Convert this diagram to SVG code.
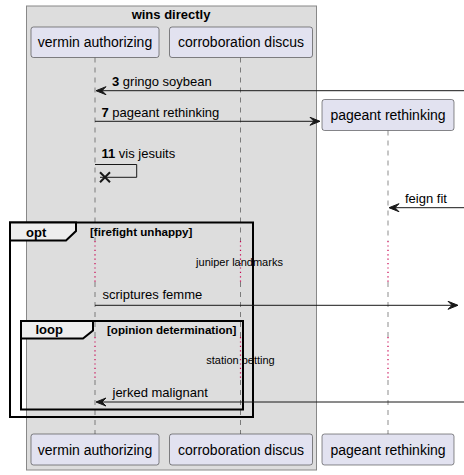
<svg xmlns="http://www.w3.org/2000/svg" width="464" height="475" viewBox="0 0 464 475">
<style>
text{font-family:"Liberation Sans",Arial,sans-serif;fill:#000}
.p{font-size:14px;text-anchor:middle}
.m{font-size:13px}
.b{font-weight:bold}
.d{font-size:11px;text-anchor:middle}
.g{font-size:11.6px;font-weight:bold}
.part{fill:#E2E2F0;stroke:#181818;stroke-width:0.5}
.life{stroke:#181818;stroke-width:0.5;stroke-dasharray:5,5;fill:none}
.delay{stroke:#C8004F;stroke-width:1.2;stroke-dasharray:1.2,3.2;fill:none}
.msg{stroke:#181818;stroke-width:1;fill:none}
.head{fill:#181818;stroke:#181818;stroke-width:1}
.frame{fill:none;stroke:#000;stroke-width:2}
.tab{fill:#EEEEEE;stroke:#000;stroke-width:2}
</style>
<g id="box-wins-directly">
<rect x="26.5" y="6" width="290" height="464" fill="#DDDDDD" stroke="#888888" stroke-width="1"/>
<text x="171" y="18.5" class="m b" text-anchor="middle">wins directly</text>
</g>
<g id="lifelines">
<path class="life" d="M95,57.5V241M95,282V337M95,380V434"/>
<path class="life" d="M240.5,57.5V241M240.5,282V337M240.5,380V434"/>
<path class="life" d="M388,130.5V241M388,282V337M388,380V434"/>
<path class="delay" d="M95,241V282M95,337V380"/>
<path class="delay" d="M240.5,241V282M240.5,337V380"/>
<path class="delay" d="M388,241V282M388,337V380"/>
</g>
<g id="participant-vermin-authorizing">
<rect class="part" x="31" y="27" width="128" height="30.5" rx="2.5"/>
<text class="p" x="95" y="47">vermin authorizing</text>
<rect class="part" x="31" y="434" width="128" height="31" rx="2.5"/>
<text class="p" x="95" y="454.5">vermin authorizing</text>
</g>
<g id="participant-corroboration-discus">
<rect class="part" x="169.5" y="27" width="143" height="30.5" rx="2.5"/>
<text class="p" x="241" y="47">corroboration discus</text>
<rect class="part" x="169.5" y="434" width="143" height="31" rx="2.5"/>
<text class="p" x="241" y="454.5">corroboration discus</text>
</g>
<g id="participant-pageant-rethinking">
<rect class="part" x="322" y="99.5" width="132" height="31" rx="2.5"/>
<text class="p" x="388" y="120">pageant rethinking</text>
<rect class="part" x="322" y="434" width="132" height="31" rx="2.5"/>
<text class="p" x="388" y="454.5">pageant rethinking</text>
</g>
<g id="fragment-opt">
<rect class="frame" x="10" y="222.5" width="243" height="194.5"/>
<path class="tab" d="M10,222.5H76V231L66,240.5H10Z"/>
<text class="m b" x="26" y="236.5">opt</text>
<text class="g" x="90" y="236">[firefight unhappy]</text>
</g>
<g id="fragment-loop">
<rect class="frame" x="21" y="321" width="222" height="88.5"/>
<path class="tab" d="M21,321H93V330.5L83,338.5H21Z"/>
<text class="m b" x="35.5" y="334">loop</text>
<text class="g" x="107" y="333.5">[opinion determination]</text>
</g>
<g id="connectors">
<g id="msg-3">
<line class="msg" x1="464" y1="90.7" x2="97" y2="90.7"/>
<polygon class="head" points="96,90.7 106,86.7 102,90.7 106,94.7"/>
<text class="m" x="112" y="86"><tspan class="b">3</tspan> gringo soybean</text>
</g>
<g id="msg-7">
<line class="msg" x1="95" y1="121.3" x2="319" y2="121.3"/>
<polygon class="head" points="320,121.3 310,117.3 314,121.3 310,125.3"/>
<text class="m" x="101.5" y="117"><tspan class="b">7</tspan> pageant rethinking</text>
</g>
<g id="msg-11">
<path class="msg" d="M95,164.5H136.7V177.3H100"/>
<path d="M100,172.3L110,182.3M100,182.3L110,172.3" stroke="#181818" stroke-width="2" fill="none"/>
<text class="m" x="101.5" y="158"><tspan class="b">11</tspan> vis jesuits</text>
</g>
<g id="msg-feign-fit">
<line class="msg" x1="464" y1="207.7" x2="390" y2="207.7"/>
<polygon class="head" points="389,207.7 399,203.7 395,207.7 399,211.7"/>
<text class="m" x="405" y="202.5">feign fit</text>
</g>
<g id="msg-scriptures-femme">
<line class="msg" x1="95" y1="305.3" x2="457" y2="305.3"/>
<polygon class="head" points="458,305.3 448,301.3 452,305.3 448,309.3"/>
<text class="m" x="102.5" y="299">scriptures femme</text>
</g>
<g id="msg-jerked-malignant">
<line class="msg" x1="464" y1="402" x2="97" y2="402"/>
<polygon class="head" points="96,402 106,398 102,402 106,406"/>
<text class="m" x="112.5" y="396.5">jerked malignant</text>
</g>
</g>
<g id="delay-labels">
<text class="d" x="239.5" y="266">juniper landmarks</text>
<text class="d" x="240.5" y="364">station betting</text>
</g>
</svg>
